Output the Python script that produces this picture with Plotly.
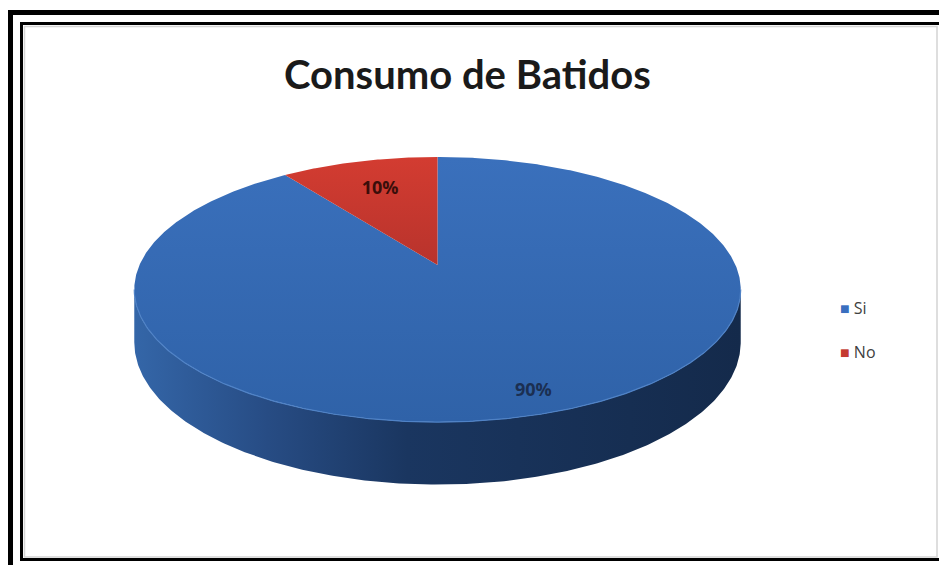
import numpy as np
import plotly.graph_objects as go

# ---- data ----
labels = ["Si", "No"]
values = [90, 10]
title_text = "Consumo de Batidos"

# ---- geometry / style constants (pixel space) ----
W, H = 939, 565
CX, CY, A, B, K, DEPTH = 437.5, 265.0, 298.0, 128.0, 0.185, 51.0
top_scales = [
    [[0, "#2f62a8"], [1, "#3a70bc"]],
    [[0, "#b8332c"], [1, "#d33c31"]],
]
side_scales = [
    [[0, "#3466a8"], [0.22, "#274c84"], [0.45, "#1a3660"], [1, "#142a4b"]],
    [[0, "#8e2620"], [1, "#6e1d18"]],
]
legend_colors = ["#3a6fbf", "#c43a30"]
label_r = [0.88, 0.70]
label_colors = ["#1b2f52", "#3a0e0a"]


def proj(theta_deg, r=1.0, drop=0.0):
    t = np.radians(theta_deg)
    u = r * np.sin(t)
    v = -r * np.cos(t)
    w = 1 - K * v
    return CX + A * u / w, CY + B * v / w + drop / w


total = float(sum(values))
bounds = []
start = 0.0
for v in values:
    end = start + 360.0 * v / total
    bounds.append((start, end))
    start = end

vis0 = np.degrees(np.arccos(-K))
vis1 = 360.0 - vis0

fig = go.Figure()

# side walls
for i, (a0, a1) in enumerate(bounds):
    s0, s1 = max(a0, vis0), min(a1, vis1)
    if s1 <= s0:
        continue
    n = max(int((s1 - s0) * 2), 4)
    th = np.linspace(s0, s1, n)
    xt, yt = proj(th)
    xb, yb = proj(th[::-1], drop=DEPTH)
    xs = np.concatenate([xt, xb, xt[:1]])
    ys = np.concatenate([yt, yb, yt[:1]])
    fig.add_trace(go.Scatter(
        x=xs, y=ys, mode="lines", fill="toself",
        line=dict(width=0, color=side_scales[i][-1][1]),
        fillgradient=dict(type="horizontal", colorscale=side_scales[i]),
        showlegend=False, hoverinfo="skip"))

# top faces
for i, (a0, a1) in enumerate(bounds):
    n = max(int((a1 - a0) * 2), 4)
    th = np.linspace(a0, a1, n)
    xa, ya = proj(th)
    xs = np.concatenate([[CX], xa, [CX]])
    ys = np.concatenate([[CY], ya, [CY]])
    fig.add_trace(go.Scatter(
        x=xs, y=ys, mode="lines", fill="toself",
        line=dict(width=0, color=top_scales[i][0][1]),
        fillgradient=dict(type="vertical", colorscale=top_scales[i]),
        showlegend=False, hoverinfo="skip"))

# light rim highlight along the front edge
th = np.linspace(vis0, vis1, 300)
rx, ry = proj(th)
fig.add_trace(go.Scatter(x=rx, y=ry, mode="lines",
                         line=dict(width=1.2, color="#4f82c6"),
                         showlegend=False, hoverinfo="skip"))

# data labels
for i, (a0, a1) in enumerate(bounds):
    mid = (a0 + a1) / 2
    lx, ly = proj(mid, r=label_r[i])
    pct = 100.0 * values[i] / total
    fig.add_trace(go.Scatter(
        x=[lx], y=[ly], mode="text", text=[f"{pct:.0f}%"],
        textfont=dict(family="Open Sans", size=18, color=label_colors[i], weight="bold"),
        showlegend=False, hoverinfo="skip"))

# legend entries (coloured square drawn as a glyph so it sits close to the text)
for i, lab in enumerate(labels):
    fig.add_trace(go.Scatter(
        x=[None], y=[None], mode="markers",
        name=f"<span style='color:{legend_colors[i]}'>■</span> {lab}",
        legendgroup=lab,
        marker=dict(symbol="square", size=1, color="rgba(0,0,0,0)",
                    line=dict(width=0))))

fig.update_layout(
    width=W, height=H,
    margin=dict(l=0, r=0, t=0, b=0),
    paper_bgcolor="white", plot_bgcolor="white",
    xaxis=dict(range=[0, W], visible=False, fixedrange=True),
    yaxis=dict(range=[H, 0], visible=False, fixedrange=True),
    showlegend=True,
    legend=dict(x=(800 / W), y=1 - (291 / H), xanchor="left", yanchor="top",
                font=dict(family="Open Sans", size=16, color="#404040"),
                tracegroupgap=20, bgcolor="rgba(0,0,0,0)", itemwidth=30),
    annotations=[dict(x=467, y=74, xref="x", yref="y", text=title_text,
                      showarrow=False,
                      font=dict(family="Lato", size=40, color="#1a1a1a", weight="bold"))],
    shapes=[
        dict(type="rect", xref="x", yref="y", x0=10.5, y0=12.5, x1=980, y1=620,
             line=dict(color="black", width=5)),
        dict(type="rect", xref="x", yref="y", x0=24.5, y0=26.5, x1=937, y1=557,
             line=dict(color="#d4d4d4", width=1.5)),
        dict(type="rect", xref="x", yref="y", x0=21.5, y0=23.5, x1=980, y1=559.5,
             line=dict(color="black", width=3)),
    ],
)

fig.write_html("out.html")
